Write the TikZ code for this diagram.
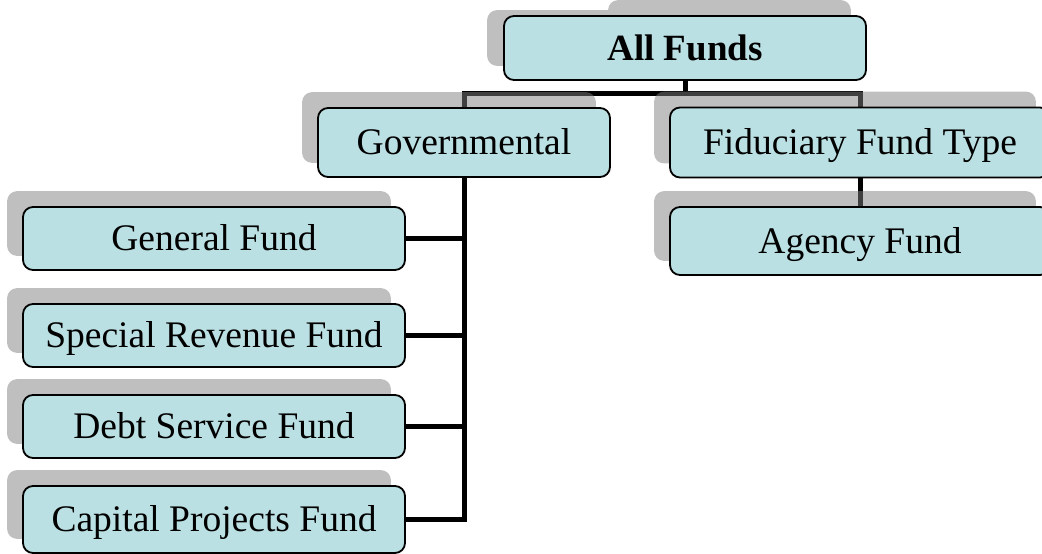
\documentclass[tikz,border=0pt]{standalone}
\usepackage{fontspec}
\setmainfont{Liberation Serif}

\pgfdeclarelayer{lines}
\pgfdeclarelayer{shade}
\pgfsetlayers{lines,shade,main}

\definecolor{fundfill}{RGB}{187,224,227}

\begin{document}
\begin{tikzpicture}[
    x=1pt, y=-1pt,
    fundbox/.style={rectangle, rounded corners=10pt, draw=black, line width=1.8pt,
      fill=fundfill, inner sep=0pt, text height=33pt, text depth=8.5pt,
      font=\fontsize{37.5}{40}\selectfont},
    leftbox/.style={fundbox, minimum width=382pt, minimum height=63pt},
    link/.style={draw=black, line width=5pt},
    shadefill/.style={fill=black!50, fill opacity=0.5, rounded corners=10pt},
  ]
  \useasboundingbox (0,0) rectangle (1042,554);

  \node[fundbox, minimum width=362pt, minimum height=64pt,
    font=\fontsize{37}{40}\selectfont\bfseries] (all) at (685,48)   {All Funds};
  \node[fundbox, minimum width=292pt, minimum height=69pt] (gov)    at (464,142.5) {Governmental};
  \node[fundbox, minimum width=380pt, minimum height=70pt] (fid)    at (860,142.5) {Fiduciary Fund Type};
  \node[fundbox, minimum width=380pt, minimum height=68pt] (agency) at (860,241)   {Agency Fund};

  \node[leftbox]                     (general) at (214,238.5) {General Fund};
  \node[leftbox]                     (special) at (214,335.5) {Special Revenue Fund};
  \node[leftbox]                     (debt)    at (214,426.5) {Debt Service Fund};
  \node[leftbox, minimum height=67pt] (capital) at (214,519.5) {Capital Projects Fund};

  % shadows sit over the lines, under the boxes
  \begin{pgfonlayer}{shade}
    \foreach \n in {gov, fid, agency, general, special, debt, capital}
      \fill[shadefill] ([shift={(-15,-15)}]\n.south west) rectangle ([shift={(-15,-15)}]\n.north east);
    \fill[shadefill] ([shift={(-16,-15)}]all.south west) rectangle ([shift={(-16,-5)}]all.north east)
      ([shift={(105,-15)}]all.south west) rectangle ([shift={(-16,-15)}]all.north east);
  \end{pgfonlayer}

  \begin{pgfonlayer}{lines}
    \draw[link] (all.south) -- ++(0,14);
    \draw[link] (gov.north) -- ++(0,-14) -| (fid.north);
    \draw[link] (fid) -- (agency);
    \draw[link] (gov.south) |- (capital.east);
    \foreach \n in {general, special, debt}
      \draw[link] (\n.east) -- (\n.east -| gov.south);
  \end{pgfonlayer}
\end{tikzpicture}
\end{document}
